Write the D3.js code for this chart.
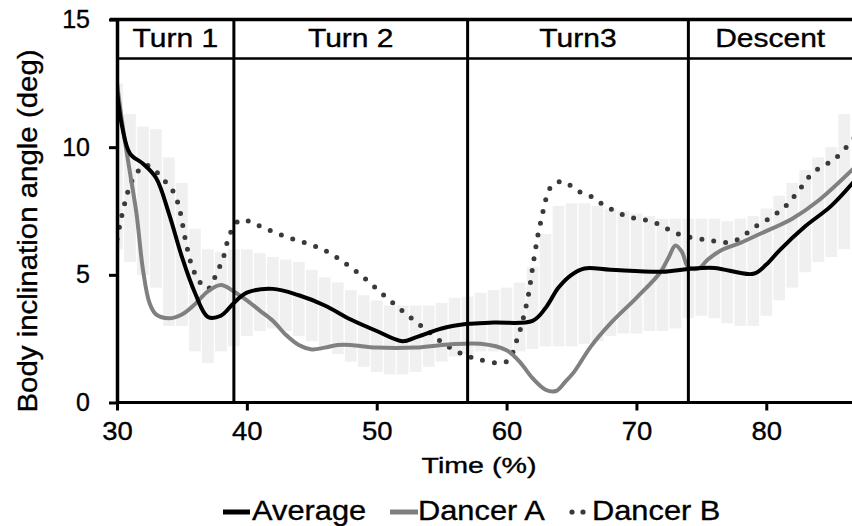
<!DOCTYPE html>
<meta charset="utf-8">
<head>
  <title>Body inclination angle</title>
</head>

<style>
body {
  margin: 0;
  background: #fff;
}
svg {
  display: block;
  font-family: "Liberation Sans", Arial, sans-serif;
}
svg text {
  fill: #000;
  stroke: #000;
  stroke-width: 0.35px;
}
</style>

<body>
  <div id="content">
    <svg width="852" height="526"></svg>
  </div>

  <script src="https://cdnjs.cloudflare.com/ajax/libs/d3/7.8.5/d3.min.js"></script>

  <script>
// phases across the top
var phaseNames = ['Turn 1', 'Turn 2', 'Turn3', 'Descent'];
var phaseStarts = [30, 39, 57, 74];

var xTicks = [30, 40, 50, 60, 70, 80];
var yTicks = [0, 5, 10, 15];

// mean +/- SD band, one column per % of time
var bandTime  = [30,31,32,33,34,35,36,37,38,39,40,41,42,43,44,45,46,47,48,49,50,51,52,53,54,55,56,57,58,59,60,61,62,63,64,65,66,67,68,69,70,71,72,73,74,75,76,77,78,79,80,81,82,83,84,85,86];
var bandUpper = [12.5,11.3,10.8,10.7,9.6,8.6,6.8,6.0,5.9,6.0,6.0,5.85,5.7,5.6,5.5,5.2,4.9,4.7,4.4,4.2,4.0,3.8,3.8,3.8,3.8,3.9,4.1,4.15,4.3,4.4,4.5,4.7,5.3,6.6,7.7,7.8,7.8,7.7,7.6,7.5,7.4,7.3,7.2,7.2,7.2,7.2,7.2,7.1,7.2,7.3,7.6,8.1,8.6,9.1,9.6,10.0,11.3];
var bandLower = [6.0,5.5,5.0,4.5,3.0,3.0,2.0,1.55,2.0,2.2,2.6,2.8,2.9,2.8,2.6,2.4,2.1,1.9,1.6,1.4,1.2,1.1,1.1,1.2,1.4,1.6,1.8,1.9,2.0,2.0,2.0,2.0,2.1,2.2,2.2,2.2,2.3,2.4,2.6,2.7,2.7,2.8,2.8,2.9,3.3,3.4,3.3,3.1,3.0,3.0,3.4,4.0,4.5,5.1,5.5,5.7,6.0];

// [time %, angle deg]
var averageLine = [[30,12.2],[30.4,10.8],[31,9.75],[32,9.35],[33,8.8],[34,7.4],[35,5.7],[36,4.3],[37,3.35],[38,3.4],[39,3.9],[40,4.3],[42,4.45],[44,4.2],[46,3.8],[48,3.25],[50,2.8],[52,2.4],[53,2.55],[55,2.9],[57,3.08],[59,3.13],[62,3.2],[63,3.7],[64,4.5],[65,5.0],[66,5.25],[68,5.2],[72,5.12],[74,5.23],[76,5.27],[79,5.04],[80,5.4],[81,5.95],[83,6.9],[85,7.7],[87,8.8]];
var dancerA = [[30,12.5],[30.5,10.6],[31,9.0],[31.5,7.4],[32,5.2],[32.5,3.9],[33,3.45],[34,3.3],[35,3.45],[36,3.85],[37,4.35],[38,4.6],[39,4.35],[40,4.0],[41,3.6],[42,3.2],[43,2.65],[44,2.25],[45,2.08],[46,2.15],[47,2.25],[48,2.25],[50,2.15],[53,2.15],[55.5,2.27],[58,2.3],[60,2.05],[61,1.6],[62,0.95],[63,0.5],[63.8,0.45],[64.5,0.8],[65.2,1.2],[66.5,2.2],[68,3.1],[70,4.1],[71.8,5.07],[72.5,5.7],[73,6.15],[73.5,5.9],[74,5.3],[74.8,5.25],[75.5,5.6],[76.5,5.95],[78,6.25],[79.5,6.6],[82,7.2],[84,7.9],[87,9.3]];
var dancerB = [[30,6.4],[30.5,7.6],[31,8.5],[31.4,8.9],[32.2,9.3],[33.1,9.0],[33.8,8.6],[34.4,8.2],[34.8,7.6],[35.3,6.3],[35.8,5.3],[36.4,4.7],[37,4.45],[37.7,5.1],[38.2,5.7],[38.7,6.6],[39.5,7.15],[40.8,6.95],[42.7,6.55],[45.9,5.98],[48.5,5.1],[51,4.0],[53.3,3.05],[55.9,2.07],[57.9,1.68],[60,1.6],[60.8,2.46],[61.6,4.0],[62.1,5.6],[62.6,7.0],[63.5,8.5],[64.4,8.65],[65.4,8.3],[66.4,8.1],[67.3,7.8],[69.2,7.3],[71.3,7.07],[73.2,6.6],[75.4,6.37],[77.4,6.3],[79.2,6.9],[80.5,7.3],[81.6,7.75],[82.5,8.3],[83.6,9.0],[85.4,9.6],[87,10.5]];

var svg = d3.select('#content svg');
var W = 852;

var x = d3.scaleLinear().domain([30, 86.6]).range([117, W]);
var y = d3.scaleLinear().domain([0, 15]).range([402.5, 19.5]);

// stretch text a bit wider, the original is drawn slightly wide
function stretch(sel, k) {
  sel.each(function() {
    var w = this.getComputedTextLength();
    d3.select(this).attr('textLength', w * k).attr('lengthAdjust', 'spacingAndGlyphs');
  });
}

svg.append('clipPath').attr('id', 'plot')
  .append('rect')
  .attr('x', x(30)).attr('y', y(15))
  .attr('width', W - x(30)).attr('height', y(0) - y(15));

var plot = svg.append('g').attr('clip-path', 'url(#plot)');

// SD band
plot.selectAll('rect.band')
  .data(bandTime)
  .enter().append('rect')
  .attr('class', 'band')
  .attr('x', function(d) { return x(d - 0.45); })
  .attr('width', x(30.9) - x(30))
  .attr('y', function(d, i) { return y(bandUpper[i]); })
  .attr('height', function(d, i) { return y(bandLower[i]) - y(bandUpper[i]); })
  .attr('fill', '#f0f0f0');

var line = d3.line()
  .x(function(d) { return x(d[0]); })
  .y(function(d) { return y(d[1]); })
  .curve(d3.curveCatmullRom.alpha(0.5));

plot.append('path').datum(dancerB)
  .attr('d', line)
  .attr('fill', 'none')
  .attr('stroke', '#3a3a3a')
  .attr('stroke-width', 5)
  .attr('stroke-linecap', 'round')
  .attr('stroke-dasharray', '0,12');

plot.append('path').datum(dancerA)
  .attr('d', line)
  .attr('fill', 'none')
  .attr('stroke', '#808080')
  .attr('stroke-width', 4);

plot.append('path').datum(averageLine)
  .attr('d', line)
  .attr('fill', 'none')
  .attr('stroke', '#000')
  .attr('stroke-width', 4);

// phase header band and dividers
svg.append('line')
  .attr('x1', 110).attr('x2', W)
  .attr('y1', y(15)).attr('y2', y(15))
  .attr('stroke', '#000').attr('stroke-width', 3.5);

svg.append('line')
  .attr('x1', x(30)).attr('x2', W)
  .attr('y1', 58.5).attr('y2', 58.5)
  .attr('stroke', '#000').attr('stroke-width', 2.5);

svg.selectAll('line.phase')
  .data(phaseStarts.slice(1))
  .enter().append('line')
  .attr('class', 'phase')
  .attr('x1', function(d) { return x(d); })
  .attr('x2', function(d) { return x(d); })
  .attr('y1', y(15)).attr('y2', y(0))
  .attr('stroke', '#000').attr('stroke-width', 3);

svg.selectAll('text.phase')
  .data(phaseNames)
  .enter().append('text')
  .attr('class', 'phase')
  .attr('x', function(d, i) {
    var a = x(phaseStarts[i]);
    var b = i < phaseStarts.length - 1 ? x(phaseStarts[i + 1]) : W;
    return (a + b) / 2;
  })
  .attr('y', 47)
  .attr('text-anchor', 'middle')
  .style('font-size', '25px')
  .text(function(d) { return d; })
  .call(stretch, 1.2);

// axes
var xAxis = svg.append('g')
  .attr('transform', 'translate(0,' + y(0) + ')')
  .call(d3.axisBottom(x).tickValues(xTicks).tickSize(8).tickSizeOuter(0).tickPadding(12));
xAxis.select('.domain').attr('stroke-width', 3).attr('d', 'M' + x(30) + ',0H' + W);
xAxis.selectAll('.tick line').attr('stroke-width', 3);
xAxis.selectAll('.tick text')
  .style('font-size', '25px')
  .call(stretch, 1.1);

var yAxis = svg.append('g')
  .attr('transform', 'translate(' + x(30) + ',0)')
  .call(d3.axisLeft(y).tickValues(yTicks).tickSize(8).tickSizeOuter(0).tickPadding(19));
yAxis.select('.domain').attr('stroke-width', 3.5);
yAxis.selectAll('.tick line').attr('stroke-width', 3);
yAxis.selectAll('.tick text')
  .style('font-size', '25px');

// axis titles
svg.append('text')
  .attr('x', 479).attr('y', 473)
  .attr('text-anchor', 'middle')
  .style('font-size', '22px')
  .text('Time (%)')
  .call(stretch, 1.3);

svg.append('text')
  .attr('transform', 'translate(37,231) rotate(-90)')
  .attr('text-anchor', 'middle')
  .style('font-size', '27px')
  .text('Body inclination angle (deg)')
  .call(stretch, 1.09);

// legend
var legendY = 512;
var legend = svg.append('g');

legend.append('line')
  .attr('x1', 223).attr('x2', 250)
  .attr('y1', legendY).attr('y2', legendY)
  .attr('stroke', '#000').attr('stroke-width', 5);
legend.append('text')
  .attr('x', 252).attr('y', 520)
  .style('font-size', '28px')
  .text('Average')
  .call(stretch, 1.1);

legend.append('line')
  .attr('x1', 390).attr('x2', 418)
  .attr('y1', legendY).attr('y2', legendY)
  .attr('stroke', '#808080').attr('stroke-width', 5);
legend.append('text')
  .attr('x', 418).attr('y', 520)
  .style('font-size', '28px')
  .text('Dancer A')
  .call(stretch, 1.1);

legend.selectAll('circle')
  .data([572, 583])
  .enter().append('circle')
  .attr('cx', function(d) { return d; })
  .attr('cy', legendY)
  .attr('r', 2.6)
  .attr('fill', '#3a3a3a');
legend.append('text')
  .attr('x', 592).attr('y', 520)
  .style('font-size', '28px')
  .text('Dancer B')
  .call(stretch, 1.1);
  </script>
</body>
</html>
